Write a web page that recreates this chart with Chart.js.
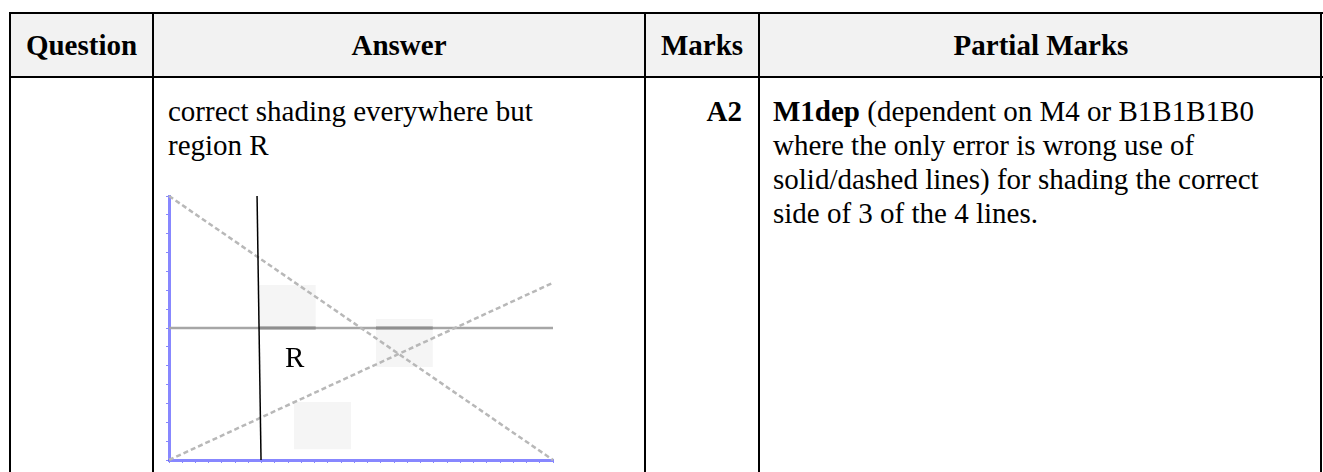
<!DOCTYPE html>
<html>
<head>
<meta charset="utf-8">
<script src="https://cdn.jsdelivr.net/npm/chart.js@4.4.0/dist/chart.umd.min.js"></script>
<style>
  html, body { margin:0; padding:0; background:#fff; width:1323px; height:472px; overflow:hidden; }
  .abs { position:absolute; }
  .txt { font-family:"Liberation Serif","Times New Roman",serif; font-size:29px; line-height:34px; color:#000; white-space:nowrap; }
  .hdr { font-weight:bold; text-align:center; line-height:64px; top:13px; }
  .line { background:#000; }
</style>
</head>
<body>
<!-- table background and rules -->
<div class="abs" style="left:10px;top:13px;width:1311px;height:64px;background:#f2f2f2;"></div>
<div class="abs line" style="left:9px;top:12px;width:1314px;height:2px;"></div>
<div class="abs line" style="left:9px;top:76px;width:1314px;height:2px;"></div>
<div class="abs line" style="left:9px;top:12px;width:2px;height:470px;"></div>
<div class="abs line" style="left:152px;top:12px;width:2px;height:470px;"></div>
<div class="abs line" style="left:644px;top:12px;width:2px;height:470px;"></div>
<div class="abs line" style="left:758px;top:12px;width:2px;height:470px;"></div>
<div class="abs line" style="left:1320px;top:12px;width:2px;height:470px;"></div>

<!-- header -->
<div class="abs txt hdr" style="left:11px;width:141px;">Question</div>
<div class="abs txt hdr" style="left:154px;width:490px;">Answer</div>
<div class="abs txt hdr" style="left:646px;width:112px;">Marks</div>
<div class="abs txt hdr" style="left:760px;width:562px;">Partial Marks</div>

<!-- body text -->
<div class="abs txt" style="left:168px;top:94px;">correct shading everywhere but<br>region R</div>
<div class="abs txt" style="left:646px;top:94px;width:96px;text-align:right;font-weight:bold;">A2</div>
<div class="abs txt" style="left:773px;top:94px;"><b>M1dep</b> (dependent on M4 or B1B1B1B0<br>where the only error is wrong use of<br>solid/dashed lines) for shading the correct<br>side of 3 of the 4 lines.</div>

<div class="abs" style="left:161px;top:190px;width:400px;height:278px;">
  <canvas id="c" width="400" height="278"></canvas>
</div>

<script>
// ---- data (graph units) ----
const xRange = [0, 29];
const yRange = [0, 14];
const descLine = [{x:0, y:14}, {x:29, y:0}];          // dashed, falling
const ascLine = [{x:0, y:0}, {x:29, y:9.4}];           // dashed, rising
const horizLine = [{x:0, y:7}, {x:29, y:7}];           // solid grey
const vertLine = [{x:6.95, y:0}, {x:6.65, y:14}];      // solid black
const boldSeg1 = [{x:6.82, y:7}, {x:11.08, y:7}];
const boldSeg2 = [{x:15.63, y:7}, {x:19.92, y:7}];
const boxA = [6.82, 6.96, 11.08, 9.28];   // x0, y0, x1, y1
const boxB = [15.63, 4.93, 19.92, 7.48];
const boxC = [9.44, 0.57, 13.75, 3.08];
const regionLabel = 'R';
const regionLabelX = 8.76;
const regionLabelY = 4.93;

function rect(b) {
  return [{x:b[0],y:b[1]},{x:b[2],y:b[1]},{x:b[2],y:b[3]},{x:b[0],y:b[3]},{x:b[0],y:b[1]}];
}
const axisBlue = 'rgba(95,95,255,0.75)';

function boxDs(b) {
  return { data: rect(b), showLine: true, fill: 'shape', backgroundColor: '#f5f5f5',
           borderWidth: 0, borderColor: 'rgba(0,0,0,0)', pointRadius: 0, order: 10, tension: 0 };
}
function lineDs(pts, color, width, dash, order) {
  return { data: pts, showLine: true, fill: false, borderColor: color, borderWidth: width,
           borderDash: dash, pointRadius: 0, order: order, tension: 0, clip: 3 };
}

new Chart(document.getElementById('c'), {
  type: 'scatter',
  data: {
    datasets: [
      boxDs(boxA), boxDs(boxB), boxDs(boxC),
      lineDs(horizLine, '#a6a6a6', 2.5, [], 5),
      lineDs(boldSeg1, '#8e8e8e', 3, [], 4),
      lineDs(boldSeg2, '#8e8e8e', 3, [], 4),
      lineDs(descLine, '#b8b8b8', 2.5, [5, 3], 3),
      lineDs(ascLine, '#b8b8b8', 2.5, [5, 3], 3),
      lineDs(vertLine, '#000000', 1.5, [], 1)
    ]
  },
  options: {
    responsive: false,
    animation: false,
    devicePixelRatio: 1,
    layout: { padding: { left: 2, right: 8, top: 6, bottom: 2 } },
    plugins: { legend: { display: false }, tooltip: { enabled: false } },
    scales: {
      x: {
        type: 'linear', position: 'bottom', min: xRange[0], max: xRange[1],
        border: { display: true, color: axisBlue, width: 3 },
        grid: { drawOnChartArea: false, drawTicks: true, tickLength: 3, tickColor: axisBlue, color: axisBlue },
        ticks: { display: false, stepSize: 1, maxTicksLimit: 100 },
        afterFit: s => { s.height = 6; }
      },
      y: {
        type: 'linear', position: 'left', min: yRange[0], max: yRange[1],
        border: { display: true, color: axisBlue, width: 3 },
        grid: { drawOnChartArea: false, drawTicks: true, tickLength: 3, tickColor: axisBlue, color: axisBlue },
        ticks: { display: false, stepSize: 1, maxTicksLimit: 100 },
        afterFit: s => { s.width = 6; }
      }
    }
  },
  plugins: [{
    id: 'regionLabel',
    afterDatasetsDraw(chart) {
      const { ctx, scales } = chart;
      ctx.save();
      ctx.font = '29px "Liberation Serif", "Times New Roman", serif';
      ctx.fillStyle = '#000';
      ctx.textBaseline = 'alphabetic';
      ctx.textAlign = 'left';
      ctx.fillText(regionLabel, scales.x.getPixelForValue(regionLabelX), scales.y.getPixelForValue(regionLabelY));
      ctx.restore();
    }
  }]
});
</script>
</body>
</html>
